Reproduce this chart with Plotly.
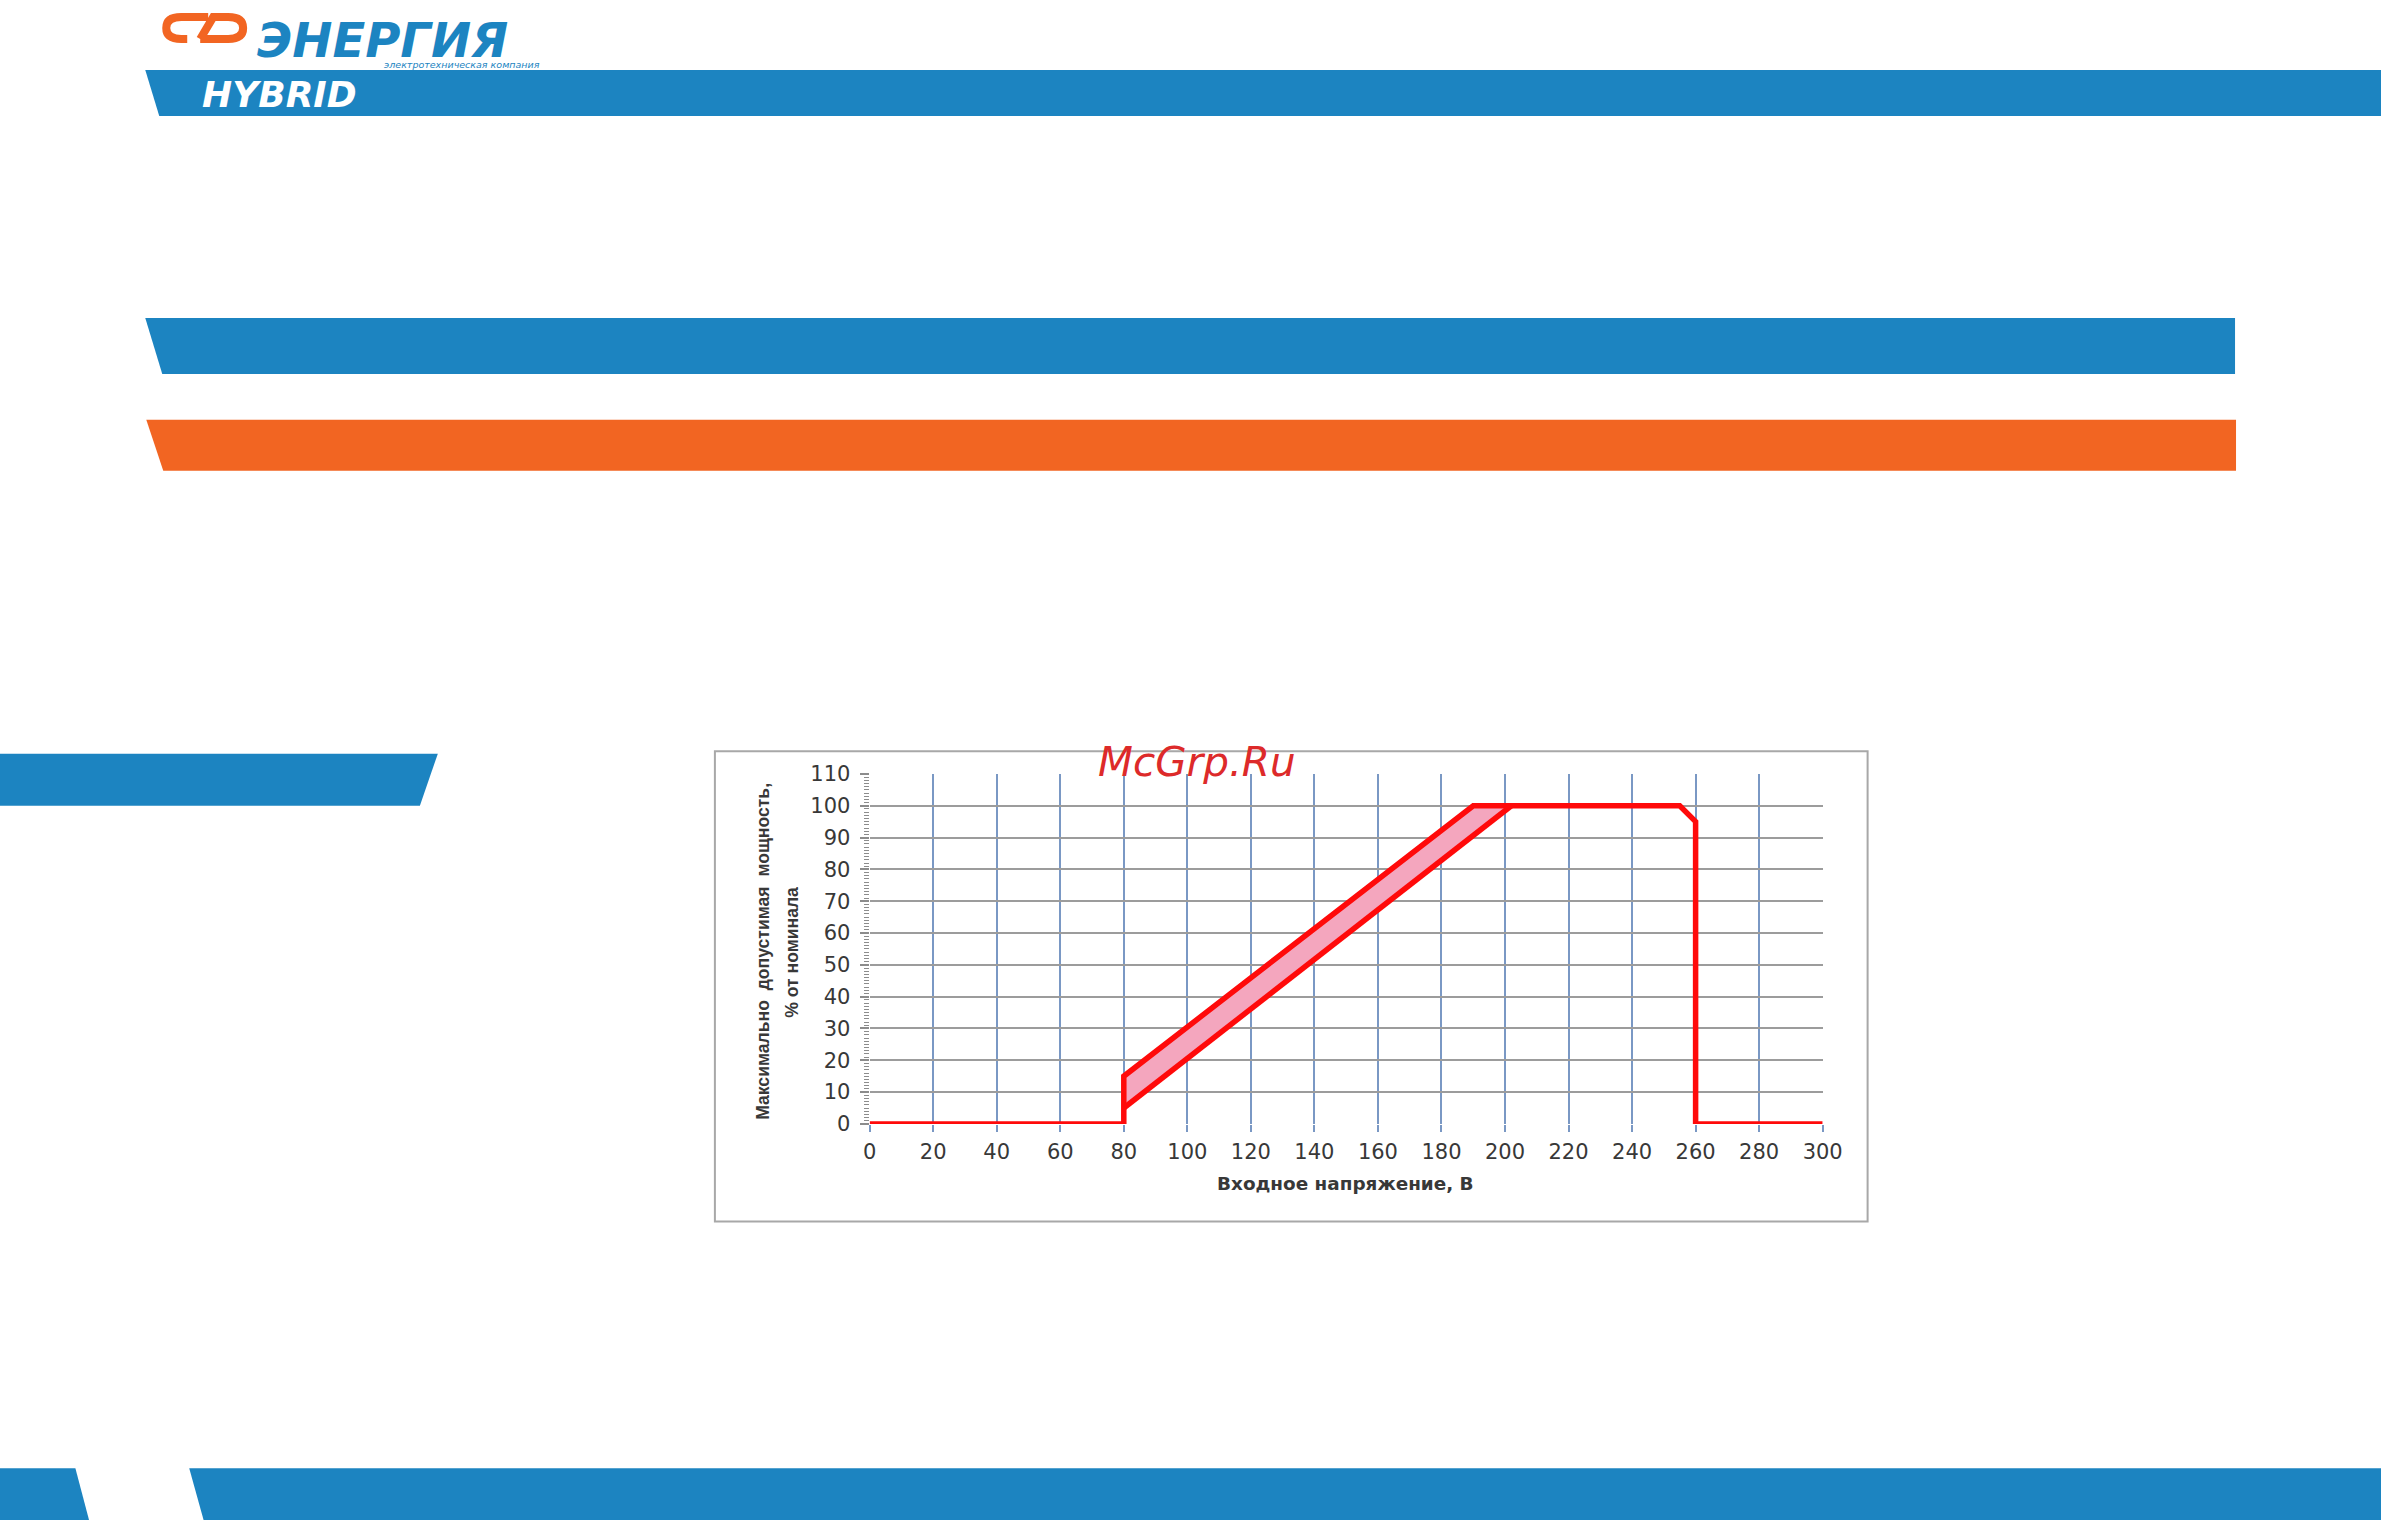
import plotly.graph_objects as go

# ---------------- data ----------------
x_ticks = [0, 20, 40, 60, 80, 100, 120, 140, 160, 180, 200, 220, 240, 260, 280, 300]
y_ticks = [0, 10, 20, 30, 40, 50, 60, 70, 80, 90, 100, 110]

# outer (upper) limit curve
upper_x = [0, 80, 80, 190, 255, 260, 260, 300]
upper_y = [0, 0, 15, 100, 100, 95, 0, 0]
# lower limit curve of the tolerance band
lower_x = [80, 202]
lower_y = [5, 100]
# tolerance band (between lower and upper lines)
band_x = [80, 190, 202, 80]
band_y = [15, 100, 100, 5]

x_title = "Входное напряжение, В"
y_title_1 = "Максимально  допустимая  мощность,"
y_title_2 = "% от номинала"
watermark = "McGrp.Ru"
logo_text = "ЭНЕРГИЯ"
logo_sub = "электротехническая компания"
hybrid_text = "HYBRID"

# ---------------- geometry helpers ----------------
W, H = 2381, 1520
# calibration of the photographed picture relative to the page
SX, CX = 0.9902, 4.5
SY, CY = 0.9848, 10.9


def fx(x):
    return ((x - CX) / SX) / W


def fy(y):
    return 1 - ((y - CY) / SY) / H


def poly(points):
    return "M " + " L ".join(f"{fx(x):.5f},{fy(y):.5f}" for x, y in points) + " Z"


def path(cmds):
    out = []
    for c in cmds:
        op, pts = c[0], c[1:]
        out.append(op + " " + " ".join(f"{fx(x):.5f},{fy(y):.5f}" for x, y in pts))
    return " ".join(out)


BLUE = "#1C84C1"
ORANGE = "#F26522"
RED = "#FF0A0A"
PINK = "#F4A6BE"
HGRID = "#9C9C9C"
VGRID = "#7A98C4"
TXT = "#383838"

fig = go.Figure()

fig.add_trace(go.Scatter(x=band_x, y=band_y, mode="lines", fill="toself",
                         fillcolor=PINK, line=dict(width=0), hoverinfo="skip",
                         showlegend=False))
fig.add_trace(go.Scatter(x=lower_x, y=lower_y, mode="lines",
                         line=dict(color=RED, width=5.5), showlegend=False))
fig.add_trace(go.Scatter(x=upper_x, y=upper_y, mode="lines",
                         line=dict(color=RED, width=5.5), showlegend=False))

shapes = []
# decorative banners
for pts, col in [
    ([(143, 69), (2400, 69), (2400, 115), (157, 115)], BLUE),
    ([(143, 317), (2236, 317), (2236, 373), (160, 373)], BLUE),
    ([(144, 419), (2237, 419), (2237, 470), (161, 470)], ORANGE),
    ([(-20, 753), (436, 753), (418, 805), (-20, 805)], BLUE),
    ([(-20, 1468), (73, 1468), (92, 1540), (-20, 1540)], BLUE),
    ([(187, 1468), (2400, 1468), (2400, 1540), (207, 1540)], BLUE),
]:
    shapes.append(dict(type="path", xref="paper", yref="paper", path=poly(pts),
                       fillcolor=col, line=dict(width=0), layer="below"))

# orange logo symbol
shapes.append(dict(type="path", xref="paper", yref="paper",
                   path=path([("M", (206, 16)), ("L", (179, 16)), ("Q", (164, 16), (164, 27)),
                              ("Q", (164, 38), (179, 38)), ("L", (185, 38))]),
                   line=dict(color=ORANGE, width=8), layer="below"))
shapes.append(dict(type="path", xref="paper", yref="paper",
                   path=path([("M", (198, 38)), ("L", (211, 16)), ("L", (226, 16)),
                              ("Q", (241, 16), (241, 27)), ("Q", (241, 38), (226, 38)),
                              ("L", (198, 38))]),
                   line=dict(color=ORANGE, width=8), layer="below"))

# chart frame
shapes.append(dict(type="rect", xref="paper", yref="paper",
                   x0=fx(713.5), x1=fx(1868), y0=fy(1221), y1=fy(750.5),
                   line=dict(color="#A8A8A8", width=2), fillcolor="rgba(0,0,0,0)",
                   layer="below"))

annotations = [
    dict(text=f"<b><i>{logo_text}</i></b>", x=fx(255), y=fy(11.2), xanchor="left",
         yanchor="top", font=dict(family="DejaVu Sans", size=48, color=BLUE)),
    dict(text=f"<i>{logo_sub}</i>", x=fx(382), y=fy(63), xanchor="left",
         yanchor="middle", font=dict(family="DejaVu Sans", size=9.5, color=BLUE)),
    dict(text=f"<b><i>{hybrid_text}</i></b>", x=fx(200), y=fy(93.5), xanchor="left",
         yanchor="middle", font=dict(family="DejaVu Sans", size=36, color="white")),
    dict(text=f"<i>{watermark}</i>", x=fx(1196), y=fy(761), xanchor="center",
         yanchor="middle", font=dict(family="DejaVu Sans", size=40.5, color="#DD2A2A")),
    dict(text=f"<b>{x_title}</b>", x=fx(1345), y=fy(1183), xanchor="center",
         yanchor="middle", font=dict(family="DejaVu Sans", size=18.4, color=TXT)),
    dict(text=f"<b>{y_title_1}</b>", x=fx(761), y=fy(951), xanchor="center",
         yanchor="middle", textangle=-90,
         font=dict(family="Liberation Sans", size=17.6, color=TXT)),
    dict(text=f"<b>{y_title_2}</b>", x=fx(790), y=fy(952), xanchor="center",
         yanchor="middle", textangle=-90,
         font=dict(family="Liberation Sans", size=17.6, color=TXT)),
]
for a in annotations:
    a.update(xref="paper", yref="paper", showarrow=False, borderpad=0, borderwidth=0)

fig.update_layout(
    width=W, height=H,
    margin=dict(l=0, r=0, t=0, b=0),
    paper_bgcolor="white", plot_bgcolor="white",
    showlegend=False,
    shapes=shapes,
    annotations=annotations,
    xaxis=dict(domain=[fx(868.5), fx(1823)], range=[0, 300],
               tickmode="array", tickvals=x_ticks,
               showgrid=True, gridcolor=VGRID, gridwidth=2,
               zeroline=False, showline=False,
               ticks="outside", ticklen=7, tickwidth=1.5, tickcolor=VGRID,
               ticklabelstandoff=2,
               tickfont=dict(family="DejaVu Sans", size=21, color=TXT),
               fixedrange=True),
    yaxis=dict(domain=[fy(1123.5), fy(773.3)], range=[0, 110],
               tickmode="array", tickvals=y_ticks,
               showgrid=True, gridcolor=HGRID, gridwidth=2,
               zeroline=False, showline=False,
               ticks="outside", ticklen=9, tickwidth=1.5, tickcolor="#8C8C8C",
               minor=dict(tickmode="linear", tick0=0, dtick=1, ticks="outside",
                          ticklen=5, tickwidth=1, tickcolor="#8C8C8C", showgrid=False),
               ticklabelstandoff=5,
               tickfont=dict(family="DejaVu Sans", size=21, color=TXT),
               fixedrange=True),
)

fig.write_html(
    "out.html",
    config={"displayModeBar": False},
    post_script="document.body.style.margin='0px';"
                "document.documentElement.style.overflow='hidden';"
                "document.body.style.overflow='hidden';",
)
